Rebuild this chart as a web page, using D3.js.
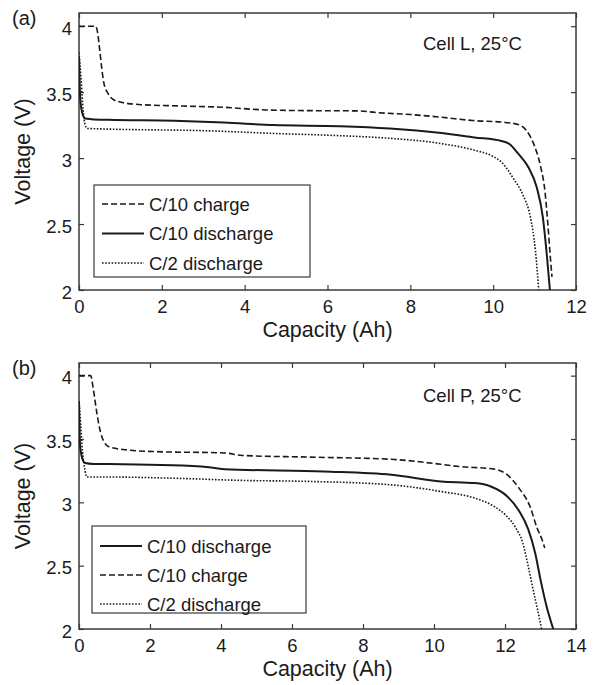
<!DOCTYPE html>
<html><head><meta charset="utf-8">
<script src="https://cdn.jsdelivr.net/npm/d3@7"></script>
<style>
html,body{margin:0;padding:0;background:#fff;}
svg{display:block;font-family:"Liberation Sans",Arial,Helvetica,sans-serif;}
</style></head>
<body>
<svg id="chart" width="596" height="685"></svg>
<script>
// ---------- Data (panel a: Cell L) ----------
const aChargeX = [0, 0.4, 0.45, 0.5, 0.55, 0.6, 0.7, 0.8, 1.0, 1.5, 2.5, 3.5, 4.5, 5.5, 6.7, 7.2, 8, 8.75, 9.5, 10.3, 10.6, 10.8, 11.0, 11.15, 11.25, 11.32, 11.38, 11.42];
const aChargeV = [4.0, 4.0, 3.95, 3.82, 3.68, 3.57, 3.49, 3.45, 3.425, 3.405, 3.395, 3.385, 3.365, 3.36, 3.358, 3.345, 3.33, 3.31, 3.285, 3.27, 3.255, 3.21, 3.09, 2.93, 2.75, 2.5, 2.25, 2.1];
const aDisX = [0, 0.03, 0.08, 0.15, 0.3, 0.7, 2.3, 3.5, 4.7, 6.3, 7.5, 8.75, 9.55, 10.2, 10.4, 10.6, 10.85, 11.05, 11.2, 11.3, 11.37];
const aDisV = [3.77, 3.45, 3.34, 3.30, 3.295, 3.29, 3.283, 3.27, 3.25, 3.242, 3.225, 3.19, 3.157, 3.13, 3.105, 3.035, 2.93, 2.78, 2.55, 2.25, 2.0];
const aC2X = [0, 0.05, 0.1, 0.15, 0.2, 0.7, 3.1, 4.7, 6.3, 7.5, 8.75, 9.55, 9.95, 10.2, 10.5, 10.72, 10.9, 11.02, 11.1];
const aC2V = [3.8, 3.6, 3.36, 3.25, 3.225, 3.22, 3.207, 3.187, 3.17, 3.15, 3.11, 3.06, 3.02, 2.97, 2.84, 2.72, 2.55, 2.3, 2.0];

// ---------- Data (panel b: Cell P) ----------
const bDisX = [0, 0.03, 0.1, 0.17, 0.4, 0.83, 3.45, 4.1, 6.9, 8.8, 10.2, 11.15, 11.6, 12.05, 12.4, 12.65, 12.85, 13.0, 13.17, 13.36];
const bDisV = [3.8, 3.45, 3.34, 3.31, 3.303, 3.302, 3.283, 3.262, 3.243, 3.217, 3.165, 3.152, 3.125, 3.05, 2.93, 2.79, 2.6, 2.39, 2.18, 2.0];
const bChargeX = [0, 0.33, 0.4, 0.5, 0.6, 0.7, 0.83, 1.3, 2.2, 4.1, 4.6, 6.5, 8.8, 9.75, 10.7, 11.7, 12.05, 12.4, 12.7, 12.9, 13.05, 13.12];
const bChargeV = [4.0, 4.0, 3.9, 3.71, 3.56, 3.48, 3.44, 3.415, 3.40, 3.39, 3.37, 3.357, 3.34, 3.315, 3.283, 3.262, 3.22, 3.11, 2.97, 2.8, 2.7, 2.64];
const bC2X = [0, 0.05, 0.1, 0.17, 0.22, 0.8, 2.7, 4.6, 6.5, 8.8, 10.2, 11.15, 11.7, 12.05, 12.3, 12.5, 12.65, 12.8, 12.92, 13.03];
const bC2V = [3.8, 3.6, 3.4, 3.25, 3.2, 3.2, 3.19, 3.173, 3.165, 3.138, 3.085, 3.033, 2.967, 2.89, 2.8, 2.68, 2.5, 2.3, 2.15, 2.0];

// ---------- Axis ticks / labels ----------
const yTicks = [2, 2.5, 3, 3.5, 4];
const aXTicks = [0, 2, 4, 6, 8, 10, 12];
const bXTicks = [0, 2, 4, 6, 8, 10, 12, 14];
const xLabel = "Capacity (Ah)";
const yLabel = "Voltage (V)";
const aLegend = ["C/10 charge", "C/10 discharge", "C/2 discharge"];
const bLegend = ["C/10 discharge", "C/10 charge", "C/2 discharge"];

const styles = {
  charge: {dash: "6,3", width: 1.6},
  dis: {dash: null, width: 2},
  c2: {dash: "1.6,1.6", width: 1.6}
};

const svg = d3.select("#chart");
const ink = "#1a1a1a";
const axisCol = "#3a3a3a";

function panel(cfg) {
  const {left, right, top, bottom, xmax, xticks, series, legend, legendBox, label, labelY, note, noteY} = cfg;
  const x = d3.scaleLinear().domain([0, xmax]).range([left, right]);
  const y = d3.scaleLinear().domain([2, 4.1]).range([bottom, top]);
  const g = svg.append("g");

  const clipId = "clip" + label.replace(/\W/g, "");
  g.append("clipPath").attr("id", clipId).append("rect")
    .attr("x", left).attr("y", top).attr("width", right - left).attr("height", bottom - top);

  const tl = 5;
  const axB = d3.axisBottom(x).tickValues(xticks).tickSize(-tl).tickFormat(d3.format("d"));
  const axT = d3.axisTop(x).tickValues(xticks).tickSize(-tl).tickFormat("");
  const axL = d3.axisLeft(y).tickValues(yTicks).tickSize(-tl).tickFormat(d => d);
  const axR = d3.axisRight(y).tickValues(yTicks).tickSize(-tl).tickFormat("");
  const gb = g.append("g").attr("transform", `translate(0,${bottom})`).call(axB);
  const gt = g.append("g").attr("transform", `translate(0,${top})`).call(axT);
  const gl = g.append("g").attr("transform", `translate(${left},0)`).call(axL);
  const gr = g.append("g").attr("transform", `translate(${right},0)`).call(axR);
  [gb, gt, gl, gr].forEach(a => {
    a.select(".domain").remove();
    a.selectAll("line").attr("stroke", axisCol).attr("stroke-width", 1.2);
    a.selectAll("text").attr("fill", ink).style("font-size", "18.5px").style("font-family", "Liberation Sans, Arial, sans-serif");
  });
  gb.selectAll("text").attr("y", 10).attr("dy", "0.71em");
  gl.selectAll("text").attr("x", -7).attr("dy", "0.45em");

  g.append("rect").attr("x", left).attr("y", top).attr("width", right - left).attr("height", bottom - top)
    .attr("fill", "none").attr("stroke", axisCol).attr("stroke-width", 1.5);

  const line = d3.line().x(d => x(d[0])).y(d => y(d[1])).curve(d3.curveMonotoneX);
  series.forEach(s => {
    const pts = s.xs.map((v, i) => [v, s.vs[i]]);
    g.append("path").datum(pts).attr("d", line)
      .attr("clip-path", `url(#${clipId})`)
      .attr("fill", "none").attr("stroke", ink)
      .attr("stroke-width", styles[s.kind].width)
      .attr("stroke-dasharray", styles[s.kind].dash);
  });

  const lg = g.append("g");
  lg.append("rect").attr("x", legendBox.x).attr("y", legendBox.y).attr("width", legendBox.w).attr("height", legendBox.h)
    .attr("fill", "#fff").attr("stroke", axisCol).attr("stroke-width", 1.2);
  legend.forEach((it, i) => {
    const cy = legendBox.y + legendBox.first + i * legendBox.step;
    lg.append("line").attr("x1", legendBox.x + 8).attr("x2", legendBox.x + 50).attr("y1", cy).attr("y2", cy)
      .attr("stroke", ink).attr("stroke-width", styles[it.kind].width).attr("stroke-dasharray", styles[it.kind].dash);
    lg.append("text").attr("x", legendBox.x + 55).attr("y", cy).attr("dy", "0.36em")
      .attr("fill", ink).style("font-size", "18.5px").text(it.text);
  });

  g.append("text").attr("x", 423).attr("y", noteY).attr("dy", "0.36em").attr("fill", ink)
    .style("font-size", "18.5px").text(note);

  g.append("text").attr("x", 12).attr("y", labelY).attr("dy", "0.36em").attr("fill", ink)
    .style("font-size", "20px").text(label);

  g.append("text").attr("x", (left + right) / 2).attr("y", bottom + 47).attr("text-anchor", "middle")
    .attr("fill", ink).style("font-size", "21.5px").text(xLabel);
  g.append("text").attr("transform", `translate(22,${(top + bottom) / 2}) rotate(-90)`).attr("text-anchor", "middle")
    .attr("dy", "0.36em").attr("fill", ink).style("font-size", "21.5px").text(yLabel);
}

panel({
  left: 79, right: 576, top: 13, bottom: 290, xmax: 12, xticks: aXTicks,
  series: [
    {xs: aChargeX, vs: aChargeV, kind: "charge"},
    {xs: aDisX, vs: aDisV, kind: "dis"},
    {xs: aC2X, vs: aC2V, kind: "c2"}
  ],
  legend: [
    {text: aLegend[0], kind: "charge"},
    {text: aLegend[1], kind: "dis"},
    {text: aLegend[2], kind: "c2"}
  ],
  legendBox: {x: 94, y: 185, w: 216, h: 92, first: 19, step: 29.5},
  label: "(a)", labelY: 18, note: "Cell L, 25°C", noteY: 43
});

panel({
  left: 79, right: 576, top: 363, bottom: 629, xmax: 14, xticks: bXTicks,
  series: [
    {xs: bDisX, vs: bDisV, kind: "dis"},
    {xs: bChargeX, vs: bChargeV, kind: "charge"},
    {xs: bC2X, vs: bC2V, kind: "c2"}
  ],
  legend: [
    {text: bLegend[0], kind: "dis"},
    {text: bLegend[1], kind: "charge"},
    {text: bLegend[2], kind: "c2"}
  ],
  legendBox: {x: 92, y: 526, w: 214, h: 87, first: 20, step: 29},
  label: "(b)", labelY: 368, note: "Cell P, 25°C", noteY: 395
});
</script>
</body></html>
